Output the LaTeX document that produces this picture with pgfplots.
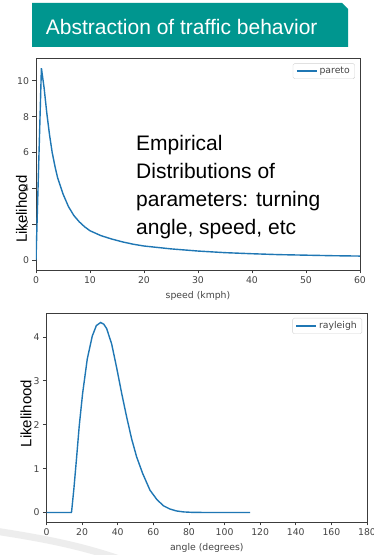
\documentclass[border=0pt]{standalone}
\usepackage{pgfplots}
\pgfplotsset{compat=1.18}
\usepackage{fontspec}
\setmainfont{Liberation Sans}
\newfontfamily\dejavu{DejaVu Sans}
\definecolor{slideteal}{RGB}{0,150,143}
\definecolor{mplblue}{RGB}{31,119,180}
\definecolor{spine}{RGB}{60,60,60}
\definecolor{ticklab}{RGB}{68,68,68}
\pgfplotsset{
  mplstyle/.style={
    scale only axis,
    axis line style={spine, line width=0.8pt},
    tick style={spine, line width=0.8pt},
    major tick length=3.5pt, tick align=outside,
    xtick pos=bottom, ytick pos=left,
    tick label style={font=\dejavu\fontsize{9.3}{11}\selectfont, text=ticklab},
    /pgf/number format/assume math mode=true,
    xlabel style={font=\dejavu\fontsize{9.3}{11}\selectfont, text=ticklab,
      at={(axis description cs:0.5,0)}, anchor=center, yshift=-26pt},
    ylabel style={font=\fontsize{15}{18}\selectfont, text=black, anchor=center},
    legend style={at={(1,1)}, anchor=north east, xshift=-5pt, yshift=-5pt,
      draw=gray!35, rounded corners=1.5pt,
      font=\dejavu\fontsize{9.3}{11}\selectfont, text=ticklab,
      inner xsep=3pt, inner ysep=1.5pt},
    legend image code/.code={\draw[mplblue, line width=1.5pt] (0pt,0pt) -- (20pt,0pt);},
  }
}
\begin{document}
\begin{tikzpicture}
\useasboundingbox (0pt,0pt) rectangle (374pt,555pt);
\fill[white] (0pt,0pt) rectangle (374pt,555pt);
% decorative swoosh
\draw[line width=7pt, gray!14, line cap=round] (-5pt,24pt) .. controls (40pt,17pt) and (80pt,10pt) .. (125pt,-6pt);
% header
\fill[slideteal] (32pt,552pt) -- (342pt,552pt) -- (348pt,546pt) -- (348pt,508pt) -- (32pt,508pt) -- cycle;
\node[anchor=base west, inner sep=0pt, text=white, font=\fontsize{21}{25}\selectfont] at (45.7pt,520pt) {Abstraction of traffic behavior};

% top axis
\begin{axis}[mplstyle,
  at={(36pt,285pt)}, anchor=south west,
  width=324pt, height=211.5pt,
  xmin=0, xmax=60, ymin=-0.535, ymax=11.235,
  xtick={0,10,20,30,40,50,60}, ytick={0,2,4,6,8,10},
  xlabel={speed (kmph)}, ylabel={Likelihood},
  ylabel style={at={(axis description cs:-0.0448,0.288)}},
]
\addplot[mplblue, line width=1.4pt] coordinates {
(0,0) (1,10.7) (1.25,10.15) (1.5,9.6) (2,8.2) (2.5,7.0) (3,6.0) (3.5,5.25) (4,4.6)
(5,3.7) (6,3.0) (7,2.5) (8,2.15) (9,1.87) (10,1.65) (12,1.38) (14,1.19) (16,1.03)
(18,0.9) (20,0.8) (25,0.64) (30,0.52) (35,0.43) (40,0.37) (45,0.32) (50,0.29) (55,0.26) (60,0.24)
};
\addlegendentry{pareto}
\end{axis}

\node[anchor=base west, inner sep=0pt, font=\fontsize{21}{25}\selectfont] at (136pt,404pt) {Empirical};
\node[anchor=base west, inner sep=0pt, font=\fontsize{21}{25}\selectfont] at (136pt,376pt) {Distributions of};
\node[anchor=base west, inner sep=0pt, font=\fontsize{21}{25}\selectfont] at (136pt,348.3pt) {parameters: turning};
\node[anchor=base west, inner sep=0pt, font=\fontsize{21}{25}\selectfont] at (136pt,320pt) {angle, speed, etc};

% bottom axis
\begin{axis}[mplstyle,
  at={(46.5pt,33pt)}, anchor=south west,
  width=320.5pt, height=209pt,
  xmin=0, xmax=180, ymin=-0.2165, ymax=4.5465,
  xtick={0,20,40,60,80,100,120,140,160,180}, ytick={0,1,2,3,4},
  xlabel={angle (degrees)}, ylabel={Likelihood},
  ylabel style={at={(axis description cs:-0.064,0.519)}},
]
\addplot[mplblue, line width=1.4pt] coordinates {
(0,0) (13.9,0) (14.1,0.02) (15.4,0.55) (16.9,1.25) (18.4,1.98) (20.3,2.72) (22.9,3.5)
(25.7,4.02) (28.0,4.26) (30.4,4.33) (32.2,4.29) (33.8,4.19) (36.6,3.84) (39.4,3.30)
(42.2,2.72) (45.0,2.18) (47.8,1.68) (50.6,1.27) (54.0,0.89) (58.1,0.51) (61.9,0.30)
(65.6,0.155) (69.3,0.08) (73,0.035) (77,0.013) (82,0.003) (90,0) (114.3,0)
};
\addlegendentry{rayleigh}
\end{axis}
\end{tikzpicture}
\end{document}
